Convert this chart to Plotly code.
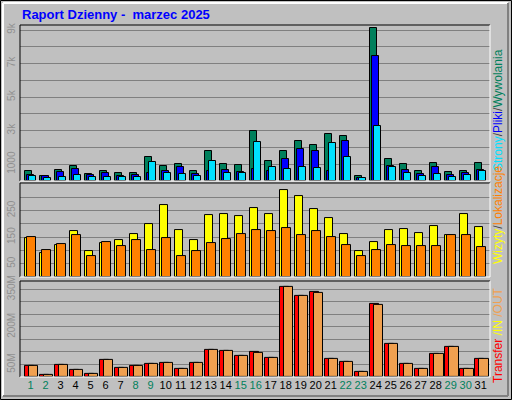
import plotly.graph_objects as go

days = list(range(1, 32))
weekend = [1, 2, 8, 9, 15, 16, 22, 23, 29, 30]

hits = [600, 320, 680, 920, 440, 600, 480, 480, 1400, 920, 1020, 600, 1760, 1020, 960, 3000,
        1200, 1760, 2360, 2160, 2820, 2700, 320, 9120, 1320, 1020, 600, 1080, 540, 600, 1080]
files = [380, 280, 540, 720, 380, 480, 320, 380, 500, 600, 840, 440, 620, 660, 540, 720,
         620, 1320, 1920, 1800, 600, 2400, 160, 7440, 920, 660, 440, 840, 380, 480, 660]
pages = [320, 200, 260, 380, 260, 260, 260, 260, 1140, 480, 420, 320, 1200, 480, 480, 2340,
         840, 720, 840, 780, 2280, 1440, 200, 3300, 840, 480, 320, 420, 260, 380, 600]
visits = [145, 90, 120, 174, 98, 127, 138, 163, 200, 270, 178, 138, 233, 237, 229, 259,
          237, 326, 304, 255, 222, 163, 98, 130, 178, 182, 167, 193, 156, 237, 189]
sites = [152, 101, 123, 156, 79, 130, 116, 138, 101, 145, 79, 98, 127, 141, 160, 178,
         171, 185, 156, 171, 149, 120, 79, 101, 120, 116, 116, 116, 156, 156, 112]
transfer = [45, 9, 49, 29, 13, 69, 37, 45, 53, 57, 33, 57, 109, 105, 85, 101,
            77, 361, 325, 341, 73, 61, 21, 293, 133, 53, 33, 93, 121, 33, 73]
out_mb = [45, 9, 49, 29, 13, 69, 37, 45, 53, 57, 33, 57, 109, 105, 85, 97,
          77, 361, 325, 337, 73, 61, 21, 289, 133, 53, 33, 93, 121, 33, 73]

fig = go.Figure()
line = dict(color="black", width=1)

def bar(y, color, offset, width, axis):
    fig.add_trace(go.Bar(x=days, y=y, marker=dict(color=color, line=line),
                         offset=offset, width=width, yaxis=axis, showlegend=False))

bar(hits, "#00805C", -0.38, 0.46, "y3")
bar(files, "#0000FF", -0.25, 0.46, "y3")
bar(pages, "#00E0FF", -0.11, 0.46, "y3")
bar(visits, "#FFFF00", -0.40, 0.55, "y2")
bar(sites, "#FF8000", -0.24, 0.6, "y2")
bar(transfer, "#FF0000", -0.40, 0.6, "y")
bar(out_mb, "#F0A050", -0.10, 0.62, "y")

font = "Liberation Sans, DejaVu Sans, sans-serif"
tick_font = dict(family=font, size=10, color="#909090")
grid = "#808080"

def ya(domain, rng, step, vals, texts):
    return dict(domain=domain, range=rng, tickvals=vals, ticktext=texts, tickangle=-90,
                tickfont=tick_font, showgrid=True, gridcolor=grid, zeroline=False,
                minor=dict(dtick=step, showgrid=True, gridcolor=grid, ticks=""),
                fixedrange=True, ticklen=0, ticklabelstandoff=2, automargin=False)

fig.update_layout(
    width=512, height=400,
    margin=dict(l=20, r=22, t=25, b=23),
    paper_bgcolor="#C0C0C0", plot_bgcolor="#C0C0C0",
    barmode="overlay", bargap=0,
    xaxis=dict(range=[0.29, 31.62], tickvals=days, automargin=False, fixedrange=True,
               ticktext=[f"<span style='color:{'#00805C' if d in weekend else 'black'}'>{d}</span>" for d in days],
               tickfont=dict(family=font, size=11), showgrid=False, zeroline=False, ticklen=0),
    yaxis=ya([0, 0.273], [0, 383], 50, [50, 200, 350], ["50M", "200M", "350M"]),
    yaxis2=ya([0.284, 0.551], [0, 353], 50, [50, 150, 250], ["50", "150", "250"]),
    yaxis3=ya([0.557, 1], [0, 9300], 1000, [1000, 3000, 5000, 7000, 9000], ["1000", "3k", "5k", "7k", "9k"]),
)

def px(x, y):
    return (x - 20) / 470, (377 - y) / 352

shapes = []
def seg(x0, y0, x1, y1, color, w=1):
    a, b = px(x0, y0)
    c, d = px(x1, y1)
    shapes.append(dict(type="line", xref="paper", yref="paper", x0=a, y0=b, x1=c, y1=d,
                       line=dict(color=color, width=w)))

# panel bevels
for top, bot in [(25, 181), (183, 277), (281, 377)]:
    seg(20, top, 490, top, "black")
    seg(20, top, 20, bot, "black")
    seg(20, bot, 490, bot, "white")
    seg(490, top, 490, bot, "white")
# outer frame
seg(0.5, 0.5, 511.5, 0.5, "black")
seg(0.5, 0.5, 0.5, 399.5, "black")
seg(511.5, 0.5, 511.5, 399.5, "black")
seg(0.5, 399.5, 511.5, 399.5, "black")
seg(3, 3, 508, 3, "white", 2)
seg(3, 3, 3, 396, "white", 2)
seg(508, 3, 508, 396, "#808080", 2)
seg(3, 396, 508, 396, "#808080", 2)
fig.update_layout(shapes=shapes)

ann = []
tx, ty = px(20, 14)
ann.append(dict(x=tx, y=ty, xref="paper", yref="paper", xanchor="left", yanchor="middle",
                text="<b>Raport Dzienny -  marzec 2025</b>", showarrow=False,
                font=dict(family=font, size=13, color="#0000FF")))

def side(y_px, html):
    x, y = px(498, y_px)
    ann.append(dict(x=x, y=y, xref="paper", yref="paper", xanchor="center", yanchor="middle",
                    text=html, textangle=-90, showarrow=False, font=dict(family=font, size=12)))

side(110, "<span style='color:#00E0FF'>Strony</span><span style='color:#404040'>/</span>"
          "<span style='color:#0000FF'>Pliki</span><span style='color:#404040'>/</span>"
          "<span style='color:#00805C'>Wywolania</span>")
side(215, "<span style='color:#FFFF00'>Wizyty</span><span style='color:#404040'>/</span>"
          "<span style='color:#FF8000'>Lokalizacje</span>")
side(335, "<span style='color:#FF0000'>Transfer</span><span style='color:#FFFF00'> /IN</span>"
          "<span style='color:#F0A050'> /OUT</span>")
fig.update_layout(annotations=ann)

fig.write_html("out.html", config={"displayModeBar": False},
               post_script="document.body.style.margin='0';")
